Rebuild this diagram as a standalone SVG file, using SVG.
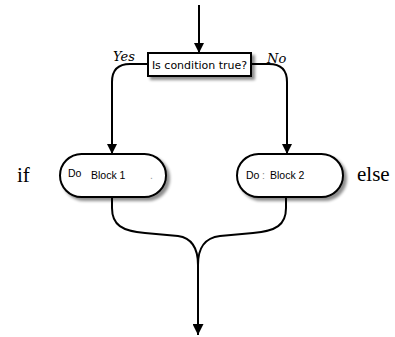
<svg xmlns="http://www.w3.org/2000/svg" width="395" height="337" viewBox="0 0 395 337">
<defs>
<filter id="sh" x="-20%" y="-20%" width="150%" height="160%">
<feGaussianBlur in="SourceAlpha" stdDeviation="1.5"/>
<feOffset dx="3" dy="3" result="b"/>
<feComponentTransfer><feFuncA type="linear" slope="0.45"/></feComponentTransfer>
<feMerge><feMergeNode/><feMergeNode in="SourceGraphic"/></feMerge>
</filter>
<marker id="ah" markerUnits="userSpaceOnUse" markerWidth="10" markerHeight="12" refX="10" refY="5" orient="auto" viewBox="0 0 10 10">
<path d="M0,0 L10,5 L0,10 Z" fill="#000"/>
</marker>
<marker id="ahb" markerUnits="userSpaceOnUse" markerWidth="15" markerHeight="11" refX="10" refY="5" orient="auto" viewBox="0 0 10 10">
<path d="M0,0 L10,5 L0,10 Z" fill="#000"/>
</marker>
</defs>
<style>
.c{fill:none;stroke:#000;stroke-width:2}
.box{fill:#fff;stroke:#000;stroke-width:2}
.t{font-family:"DejaVu Sans",sans-serif;font-size:11px;fill:#000}
.b{font-family:"Liberation Sans",Arial,sans-serif;font-size:10.5px;fill:#000}
.lab{font-family:"DejaVu Serif",serif;font-style:italic;font-size:13px;fill:#000}
.side{font-family:"Liberation Serif","Times New Roman",serif;font-size:21px;fill:#000}
</style>
<g id="connectors">
<path class="c" d="M199,5 V53" marker-end="url(#ah)"/>
<path class="c" d="M148,64 H130 Q112,64 112,82 V154" marker-end="url(#ah)"/>
<path class="c" d="M251,64 H269 Q287,64 287,82 V154" marker-end="url(#ah)"/>
<path class="c" d="M112,197 V208 C112,225 122,231 145,233 L178,236 C192,238 198,248 198,265"/>
<path class="c" d="M286,197 V208 C286,225 276,231 253,233 L220,236 C204,238 198,248 198,265 V335" marker-end="url(#ahb)"/>
</g>
<g id="decision">
<rect class="box" x="148" y="53" width="103" height="23" filter="url(#sh)"/>
<text class="t" x="199.5" y="68.5" text-anchor="middle">Is condition true?</text>
</g>
<g id="label-yes"><text class="lab" x="113" y="61">Yes</text></g>
<g id="label-no"><text class="lab" x="267" y="63">No</text></g>
<g id="block1">
<rect class="box" x="60" y="154" width="106" height="43" rx="21.5" filter="url(#sh)"/>
<text class="b" x="68" y="177">Do</text>
<text class="b" x="91" y="179">Block 1</text>
<text class="b" x="150" y="179" fill="#999" style="fill:#999">.</text>
</g>
<g id="block2">
<rect class="box" x="237" y="154" width="106" height="43" rx="21.5" filter="url(#sh)"/>
<text class="b" x="246" y="179">Do</text>
<text class="b" x="262" y="179" style="fill:#888">:</text>
<text class="b" x="270" y="179">Block 2</text>
</g>
<g id="label-if"><text class="side" x="17" y="182">if</text></g>
<g id="label-else"><text class="side" x="357" y="181">else</text></g>
</svg>
